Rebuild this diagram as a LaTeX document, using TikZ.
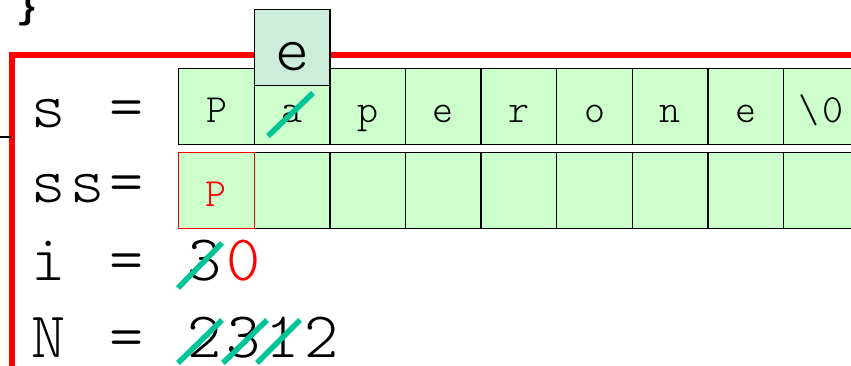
\documentclass[tikz,border=0pt]{standalone}
\usepackage{fontspec}
\newfontfamily\courierlike{Latin Modern Mono Light}
\newfontfamily\bracefont{Liberation Mono}

\definecolor{cellgreen}{RGB}{204,255,204}
\definecolor{boxteal}{RGB}{204,236,220}
\definecolor{strikegreen}{RGB}{0,196,150}
\newcommand{\bigmono}{\fontsize{65}{70}\selectfont\courierlike}
\newcommand{\cellmono}{\fontsize{40}{44}\selectfont\courierlike}
% one character per 0.6em, as in the slide's typewriter face
\makeatletter
\newcommand{\pitched}[1]{\@tfor\pch:=#1\do{\makebox[0.6em]{\pch}}}
\makeatother

\begin{document}
\begin{tikzpicture}[x=1pt,y=-1pt,
  cell/.style={draw=black, line width=1.4pt, fill=cellgreen, minimum width=75.6pt,
    minimum height=75.6pt, inner sep=0pt, anchor=north west, font=\cellmono,
    text height=38pt, text depth=5pt},
  varname/.style={anchor=base west, inner sep=0pt, font=\bigmono},
  strikeout/.style={strikegreen, line width=5.5pt}]
\useasboundingbox (0,0) rectangle (851,366);
% frame and leftovers of the previous slide
\draw[red, line width=6pt] (11.5,380) -- (11.5,55) -- (870,55);
\draw[line width=2.5pt] (0,137) -- (11,137);
\node[anchor=base, inner sep=0pt, font=\fontsize{36}{40}\selectfont\bracefont\bfseries] (brace) at (27,19) {\}};
% the two arrays
\foreach \ch [count=\k from 0] in {P,a,p,e,r,o,n,e,{\pitched{{\textbackslash}0}}}
  \node[cell] (s\k) at (178+75.6*\k,68) {\ch};
\foreach \k in {1,...,8}
  \node[cell] (ss\k) at (178+75.6*\k,152) {};
\node[cell, draw=red, line width=1.2pt, text=red] (ss0) at (178,152) {P};
\node[cell, fill=boxteal, font=\bigmono, text height=52pt, text depth=5pt] (newch) at (253.6,9) {e};
\draw[strikeout] (268,136) -- (313,93);
% variables
\node[varname] (sname) at (29,128) {\pitched{s~=}};
\node[varname] (ssname) at (29,203) {\pitched{ss=}};
\node[varname] (iname) at (29,280) {\pitched{i~=~3{\color{red}0}}};
\node[varname] (nname) at (29,357) {\pitched{N~=~2312}};
\draw[strikeout] (178,288) -- (222,243);
\draw[strikeout] (178,363) -- (222,320);
\draw[strikeout] (223,363) -- (267,320);
\draw[strikeout] (257,363) -- (300,320);
\end{tikzpicture}
\end{document}
